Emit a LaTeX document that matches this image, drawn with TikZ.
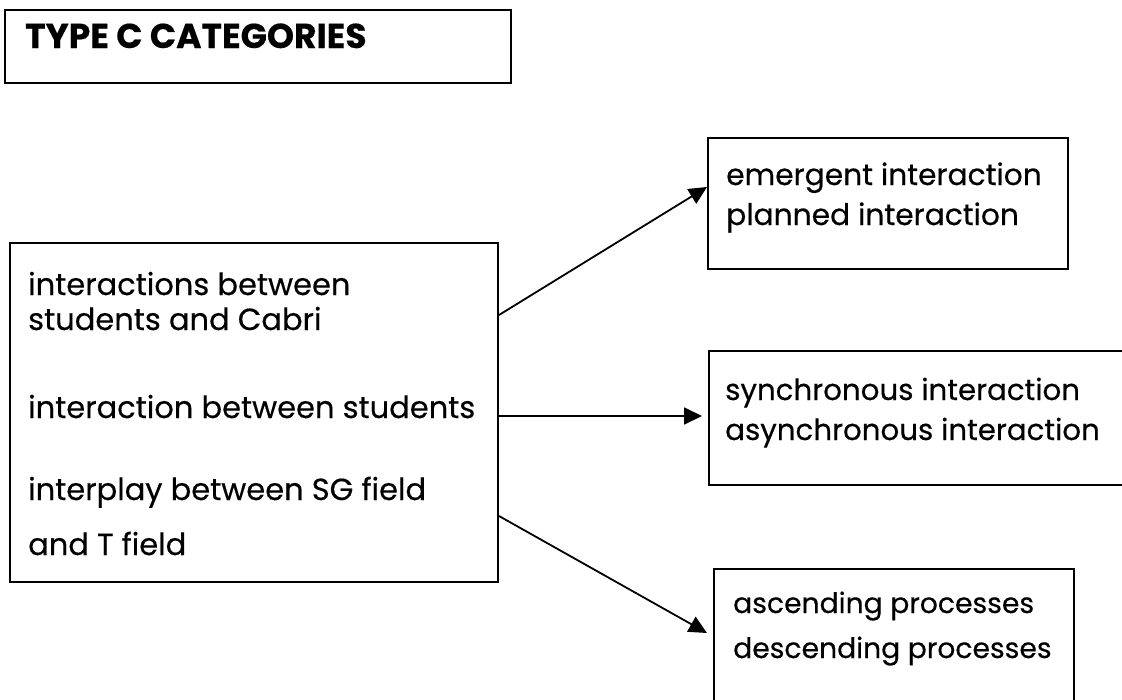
\documentclass[tikz,border=0pt]{standalone}
\usepackage{fontspec}
\setmainfont{Poppins}[FakeBold=0.4]
\usetikzlibrary{arrows.meta}
\begin{document}
\begin{tikzpicture}[x=1pt,y=-1pt,
  box/.style={draw=black, line width=2pt, inner sep=0pt, anchor=north west},
  txt/.style={inner sep=0pt, anchor=base west, font=\fontsize{30.5}{34}\selectfont},
  txtE/.style={txt, font=\fontsize{29.7}{34}\selectfont},
  txtS/.style={txt, font=\fontsize{29.3}{34}\selectfont},
  txtA/.style={txt, font=\fontsize{28.2}{34}\selectfont},
  ttl/.style={inner sep=0pt, anchor=base west, font=\fontsize{34.5}{38}\selectfont\bfseries},
  conn/.style={line width=1.8pt, -{Triangle[length=18pt,width=17pt]}}]
\useasboundingbox (0,0) rectangle (1122,699);
\fill[white] (0,0) rectangle (1122,699);
% title
\node[box, minimum width=506pt, minimum height=73pt] (T) at (4,9) {};
\node[ttl] (tt) at (25,48) {TYPE C CATEGORIES};
% left box
\node[box, minimum width=488pt, minimum height=339pt] (L) at (9,242) {};
\node[txt] (l1) at (28,295) {interactions between};
\node[txt] (l2) at (28,330) {students and Cabri};
\node[txt] (l3) at (28,418) {interaction between students};
\node[txt] (l4) at (28,500) {interplay between SG field};
\node[txt] (l5) at (28,555) {and T field};
% right boxes
\node[box, minimum width=360pt, minimum height=131pt] (E) at (707,137) {};
\node[txtE] (e1) at (726,185) {emergent interaction};
\node[txtE] (e2) at (726,225) {planned interaction};
\node[box, minimum width=430pt, minimum height=134pt] (S) at (708,350) {};
\node[txtS] (s1) at (725,400) {synchronous interaction};
\node[txtS] (s2) at (725,440) {asynchronous interaction};
\node[box, minimum width=360pt, minimum height=150pt] (A) at (713,568) {};
\node[txtA] (a1) at (733,613) {ascending processes};
\node[txtA] (a2) at (733,658) {descending processes};
% connector ends
\coordinate (o1) at (L.north east |- 0,315);
\coordinate (o2) at (L.north east |- 0,416);
\coordinate (o3) at (L.north east |- 0,516);
\coordinate (i1) at (E.north west |- 0,187);
\coordinate (i2) at ([xshift=-6pt]S.north west |- 0,416);
\coordinate (i3) at ([xshift=-6pt]A.north west |- 0,633);
\draw[conn] (o1) -- (i1);
\draw[conn] (o2) -- (i2);
\draw[conn] (o3) -- (i3);
\end{tikzpicture}
\end{document}
